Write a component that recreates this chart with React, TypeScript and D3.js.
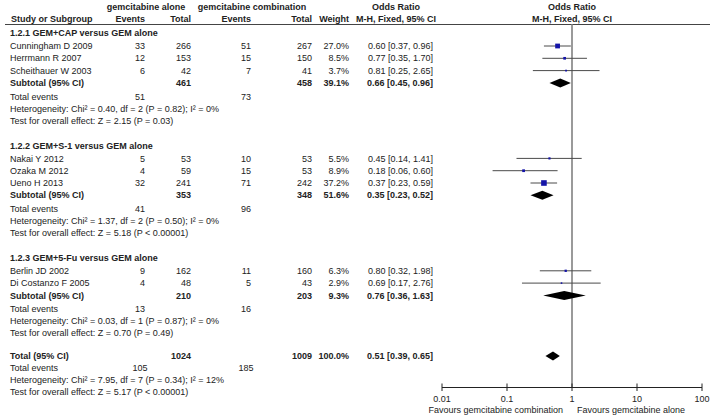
import React from "react";
import * as d3 from "d3";

const groupLabels = [
  "1.2.1 GEM+CAP versus GEM alone",
  "1.2.2 GEM+S-1 versus GEM alone",
  "1.2.3 GEM+5-Fu versus GEM alone",
];
const groupSizes = [3, 3, 2];
const studies = [
  "Cunningham D 2009",
  "Herrmann R 2007",
  "Scheithauer W 2003",
  "Nakai Y 2012",
  "Ozaka M 2012",
  "Ueno H 2013",
  "Berlin JD 2002",
  "Di Costanzo F 2005",
];
const gemEvents = [33, 12, 6, 5, 4, 32, 9, 4];
const gemTotal = [266, 153, 42, 53, 59, 241, 162, 48];
const comboEvents = [51, 15, 7, 10, 15, 71, 11, 5];
const comboTotal = [267, 150, 41, 53, 53, 242, 160, 43];
const weights = [27.0, 8.5, 3.7, 5.5, 8.9, 37.2, 6.3, 2.9];
const oddsRatio = [0.6, 0.77, 0.81, 0.45, 0.18, 0.37, 0.8, 0.69];
const ciLow = [0.37, 0.35, 0.25, 0.14, 0.06, 0.23, 0.32, 0.17];
const ciHigh = [0.96, 1.7, 2.65, 1.41, 0.6, 0.59, 1.98, 2.76];

const subGemTotal = [461, 353, 210];
const subComboTotal = [458, 348, 203];
const subWeight = [39.1, 51.6, 9.3];
const subOR = [0.66, 0.35, 0.76];
const subLow = [0.45, 0.23, 0.36];
const subHigh = [0.96, 0.52, 1.63];
const subGemEvents = [51, 41, 13];
const subComboEvents = [73, 96, 16];
const subHet = [
  "Heterogeneity: Chi² = 0.40, df = 2 (P = 0.82); I² = 0%",
  "Heterogeneity: Chi² = 1.37, df = 2 (P = 0.50); I² = 0%",
  "Heterogeneity: Chi² = 0.03, df = 1 (P = 0.87); I² = 0%",
];
const subTest = [
  "Test for overall effect: Z = 2.15 (P = 0.03)",
  "Test for overall effect: Z = 5.18 (P < 0.00001)",
  "Test for overall effect: Z = 0.70 (P = 0.49)",
];

const totalGemTotal = 1024;
const totalComboTotal = 1009;
const totalWeight = 100.0;
const totalOR = 0.51;
const totalLow = 0.39;
const totalHigh = 0.65;
const totalGemEvents = 105;
const totalComboEvents = 185;
const totalHet = "Heterogeneity: Chi² = 7.95, df = 7 (P = 0.34); I² = 12%";
const totalTest = "Test for overall effect: Z = 5.17 (P < 0.00001)";

const tickValues = [0.01, 0.1, 1, 10, 100];
const tickLabels = ["0.01", "0.1", "1", "10", "100"];
const favoursLeft = "Favours gemcitabine combination";
const favoursRight = "Favours gemcitabine alone";

const FONT = "'Liberation Sans', Arial, sans-serif";
const FS = 9;
const TXT = "#222";

const fmtOR = (o: number, l: number, h: number) =>
  `${o.toFixed(2)} [${l.toFixed(2)}, ${h.toFixed(2)}]`;
const fmtW = (w: number) => `${w.toFixed(1)}%`;

export default function App() {
  const x = d3.scaleLog().domain([0.01, 100]).range([442, 702]);

  // column anchors
  const cName = 10;
  const cE1 = 145;
  const cT1 = 191;
  const cE2 = 251;
  const cT2 = 312;
  const cW = 349;
  const cOR = 433;
  const cTE1 = 140;
  const cTE2 = 246;

  const rowH = 12.3;
  type Row = { kind: string; y: number; idx: number };
  const rows: Row[] = [];
  let y = 33;
  let s = 0;
  groupSizes.forEach((n, g) => {
    rows.push({ kind: "head", y, idx: g });
    let yy = y + 13;
    for (let i = 0; i < n; i++) {
      rows.push({ kind: "study", y: yy, idx: s + i });
      yy += rowH;
    }
    rows.push({ kind: "sub", y: yy, idx: g });
    yy += 13.5;
    rows.push({ kind: "te", y: yy, idx: g });
    yy += 12;
    rows.push({ kind: "het", y: yy, idx: g });
    yy += 12;
    rows.push({ kind: "test", y: yy, idx: g });
    s += n;
    y = yy + 25;
  });
  const totY = y - 2;
  rows.push({ kind: "tot", y: totY, idx: 0 });
  rows.push({ kind: "tte", y: totY + 12, idx: 0 });
  rows.push({ kind: "thet", y: totY + 24, idx: 0 });
  rows.push({ kind: "ttest", y: totY + 36, idx: 0 });

  const axisY = 387.5;
  const ruleY = 24.5;

  const T = (props: any) => (
    <text
      dy="0.35em"
      fontFamily={FONT}
      fontSize={FS}
      fill={TXT}
      {...props}
    />
  );

  const diamond = (o: number, l: number, h: number, yc: number, hh: number) =>
    `M${x(l)},${yc} L${x(o)},${yc - hh} L${x(h)},${yc} L${x(o)},${yc + hh} Z`;

  const els: any[] = [];
  rows.forEach((r, k) => {
    const yc = r.y;
    if (r.kind === "head") {
      els.push(
        <T key={k} x={cName} y={yc} fontWeight="bold">
          {groupLabels[r.idx]}
        </T>
      );
    } else if (r.kind === "study") {
      const i = r.idx;
      const side = 0.92 * Math.sqrt(weights[i]);
      els.push(
        <g key={k}>
          <T x={cName} y={yc}>{studies[i]}</T>
          <T x={cE1} y={yc} textAnchor="end">{gemEvents[i]}</T>
          <T x={cT1} y={yc} textAnchor="end">{gemTotal[i]}</T>
          <T x={cE2} y={yc} textAnchor="end">{comboEvents[i]}</T>
          <T x={cT2} y={yc} textAnchor="end">{comboTotal[i]}</T>
          <T x={cW} y={yc} textAnchor="end">{fmtW(weights[i])}</T>
          <T x={cOR} y={yc} textAnchor="end">{fmtOR(oddsRatio[i], ciLow[i], ciHigh[i])}</T>
          <line x1={x(ciLow[i])} x2={x(ciHigh[i])} y1={yc} y2={yc} stroke="#4a4a4a" strokeWidth={1} />
          <rect
            x={x(oddsRatio[i]) - side / 2}
            y={yc - side / 2}
            width={side}
            height={side}
            fill="#1414a8"
          />
        </g>
      );
    } else if (r.kind === "sub") {
      const g = r.idx;
      els.push(
        <g key={k}>
          <T x={cName} y={yc} fontWeight="bold">Subtotal (95% CI)</T>
          <T x={cT1} y={yc} textAnchor="end" fontWeight="bold">{subGemTotal[g]}</T>
          <T x={cT2} y={yc} textAnchor="end" fontWeight="bold">{subComboTotal[g]}</T>
          <T x={cW} y={yc} textAnchor="end" fontWeight="bold">{fmtW(subWeight[g])}</T>
          <T x={cOR} y={yc} textAnchor="end" fontWeight="bold">{fmtOR(subOR[g], subLow[g], subHigh[g])}</T>
          <path d={diamond(subOR[g], subLow[g], subHigh[g], yc, 4.5)} fill="#000" />
        </g>
      );
    } else if (r.kind === "te") {
      const g = r.idx;
      els.push(
        <g key={k}>
          <T x={cName} y={yc}>Total events</T>
          <T x={cTE1} y={yc} textAnchor="middle">{subGemEvents[g]}</T>
          <T x={cTE2} y={yc} textAnchor="middle">{subComboEvents[g]}</T>
        </g>
      );
    } else if (r.kind === "het") {
      els.push(<T key={k} x={cName} y={yc}>{subHet[r.idx]}</T>);
    } else if (r.kind === "test") {
      els.push(<T key={k} x={cName} y={yc}>{subTest[r.idx]}</T>);
    } else if (r.kind === "tot") {
      els.push(
        <g key={k}>
          <T x={cName} y={yc} fontWeight="bold">Total (95% CI)</T>
          <T x={cT1} y={yc} textAnchor="end" fontWeight="bold">{totalGemTotal}</T>
          <T x={cT2} y={yc} textAnchor="end" fontWeight="bold">{totalComboTotal}</T>
          <T x={cW} y={yc} textAnchor="end" fontWeight="bold">{fmtW(totalWeight)}</T>
          <T x={cOR} y={yc} textAnchor="end" fontWeight="bold">{fmtOR(totalOR, totalLow, totalHigh)}</T>
          <path d={diamond(totalOR, totalLow, totalHigh, yc, 4.5)} fill="#000" />
        </g>
      );
    } else if (r.kind === "tte") {
      els.push(
        <g key={k}>
          <T x={cName} y={yc}>Total events</T>
          <T x={cTE1} y={yc} textAnchor="middle">{totalGemEvents}</T>
          <T x={cTE2} y={yc} textAnchor="middle">{totalComboEvents}</T>
        </g>
      );
    } else if (r.kind === "thet") {
      els.push(<T key={k} x={cName} y={yc}>{totalHet}</T>);
    } else if (r.kind === "ttest") {
      els.push(<T key={k} x={cName} y={yc}>{totalTest}</T>);
    }
  });

  return (
    <svg
      width={714}
      height={418}
      style={{ position: "absolute", left: 0, top: 0, background: "#fff" }}
    >
      {/* headers */}
      <T x={146} y={7} textAnchor="middle" fontWeight="bold">gemcitabine alone</T>
      <T x={252} y={7} textAnchor="middle" fontWeight="bold">gemcitabine combination</T>
      <T x={396} y={7} textAnchor="middle" fontWeight="bold">Odds Ratio</T>
      <T x={x(1)} y={7} textAnchor="middle" fontWeight="bold">Odds Ratio</T>
      <T x={11} y={19} fontWeight="bold">Study or Subgroup</T>
      <T x={cE1} y={19} textAnchor="end" fontWeight="bold">Events</T>
      <T x={cT1} y={19} textAnchor="end" fontWeight="bold">Total</T>
      <T x={cE2} y={19} textAnchor="end" fontWeight="bold">Events</T>
      <T x={cT2} y={19} textAnchor="end" fontWeight="bold">Total</T>
      <T x={cW} y={19} textAnchor="end" fontWeight="bold">Weight</T>
      <T x={396} y={19} textAnchor="middle" fontWeight="bold">M-H, Fixed, 95% CI</T>
      <T x={x(1)} y={19} textAnchor="middle" fontWeight="bold">M-H, Fixed, 95% CI</T>
      <line x1={5} x2={710} y1={ruleY} y2={ruleY} stroke="#444" strokeWidth={1} />

      {/* null line */}
      <line x1={x(1)} x2={x(1)} y1={ruleY} y2={axisY} stroke="#9a9a9a" strokeWidth={2} />

      {els}

      {/* axis */}
      <line x1={x(0.01)} x2={x(100)} y1={axisY} y2={axisY} stroke="#222" strokeWidth={1} />
      {tickValues.map((v, i) => (
        <g key={i}>
          <line x1={x(v)} x2={x(v)} y1={axisY - 4} y2={axisY + 3.5} stroke="#222" strokeWidth={1} />
          <T x={x(v)} y={398.5} textAnchor="middle">{tickLabels[i]}</T>
        </g>
      ))}
      <T x={x(1) - 9} y={409.5} textAnchor="end">{favoursLeft}</T>
      <T x={x(1) + 5} y={409.5}>{favoursRight}</T>
    </svg>
  );
}
